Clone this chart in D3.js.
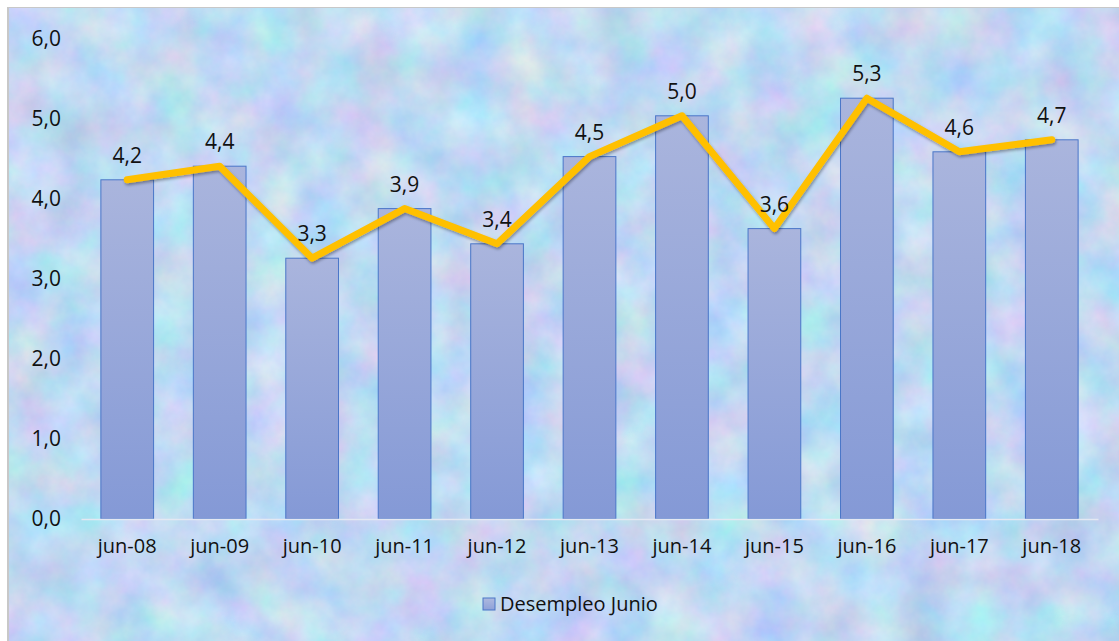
<!DOCTYPE html>
<html>
<head>
<meta charset="utf-8">
<style>
body { margin: 0; background: #fff; }
text { font-family: "Open Sans", "Noto Sans", sans-serif; fill: #111; }
.tick text { font-size: 20px; }
.yaxis .tick text { font-size: 21px; }
.lbl { font-size: 21px; text-anchor: middle; }
</style>
</head>
<body>
<svg width="1119" height="641"></svg>
<script src="https://cdn.jsdelivr.net/npm/d3@7"></script>
<script>
var categories = ["jun-08", "jun-09", "jun-10", "jun-11", "jun-12", "jun-13", "jun-14", "jun-15", "jun-16", "jun-17", "jun-18"];
var desempleo = [4.24, 4.41, 3.26, 3.88, 3.44, 4.53, 5.04, 3.63, 5.26, 4.59, 4.74];
var yTicks = [0, 1, 2, 3, 4, 5, 6];
var seriesName = "Desempleo Junio";

var svg = d3.select("svg"),
    width = 1119,
    height = 641;

var defs = svg.append("defs");

// textured background
var tex = defs.append("filter").attr("id", "tex")
    .attr("x", 0).attr("y", 0).attr("width", 1).attr("height", 1)
    .attr("color-interpolation-filters", "sRGB");
tex.append("feTurbulence")
    .attr("type", "fractalNoise")
    .attr("baseFrequency", "0.02")
    .attr("numOctaves", 5)
    .attr("seed", 7);
tex.append("feColorMatrix")
    .attr("type", "matrix")
    .attr("values", "0.34 0 0 0 0.58  0 0.22 0 0 0.74  0 0 0.12 0 0.89  0 0 0 0 1");

var grad = defs.append("linearGradient").attr("id", "barGrad")
    .attr("x1", 0).attr("y1", 0).attr("x2", 0).attr("y2", 1);
grad.append("stop").attr("offset", "0%").attr("stop-color", "#aab5dd");
grad.append("stop").attr("offset", "100%").attr("stop-color", "#8499d6");

var legGrad = defs.append("linearGradient").attr("id", "legGrad")
    .attr("x1", 0).attr("y1", 0).attr("x2", 0).attr("y2", 1);
legGrad.append("stop").attr("offset", "0%").attr("stop-color", "#aeb9df");
legGrad.append("stop").attr("offset", "100%").attr("stop-color", "#8ea1d8");

var shadow = defs.append("filter").attr("id", "shadow")
    .attr("x", "-5%").attr("y", "-5%").attr("width", "110%").attr("height", "120%");
shadow.append("feDropShadow")
    .attr("dx", 1).attr("dy", 2).attr("stdDeviation", 1.5)
    .attr("flood-color", "#000").attr("flood-opacity", 0.35);

// frame
svg.append("rect").attr("x", 7).attr("y", 7).attr("width", width).attr("height", height)
    .attr("fill", "#c8c8c8");
svg.append("rect").attr("x", 9).attr("y", 8).attr("width", width - 9).attr("height", height - 8)
    .attr("filter", "url(#tex)");

var x = d3.scaleBand()
    .domain(categories)
    .range([81, 1098])
    .paddingInner(0.43)
    .paddingOuter(0.215);

var y = d3.scaleLinear()
    .domain([0, 6])
    .range([519, 39]);

// y axis labels
var yAxis = svg.append("g")
    .attr("class", "yaxis")
    .attr("transform", "translate(61,0)")
    .call(d3.axisLeft(y).tickValues(yTicks).tickSize(0).tickPadding(0)
        .tickFormat(function(d) { return d3.format(".1f")(d).replace(".", ","); }));
yAxis.select(".domain").remove();

// bars
svg.append("g")
  .selectAll("rect")
  .data(desempleo)
  .enter().append("rect")
    .attr("x", function(d, i) { return x(categories[i]); })
    .attr("y", function(d) { return y(d); })
    .attr("width", x.bandwidth())
    .attr("height", function(d) { return y(0) - y(d); })
    .attr("fill", "url(#barGrad)")
    .attr("stroke", "#4a76c8")
    .attr("stroke-width", 1);

// baseline / x axis
var xAxis = svg.append("g")
    .attr("transform", "translate(0," + y(0) + ")")
    .call(d3.axisBottom(x).tickSize(0).tickPadding(20));
xAxis.select(".domain")
    .attr("stroke", "#e4e8f2")
    .attr("stroke-width", 1.5);

// line
var line = d3.line()
    .x(function(d, i) { return x(categories[i]) + x.bandwidth() / 2; })
    .y(function(d) { return y(d); });

svg.append("path")
    .datum(desempleo)
    .attr("d", line)
    .attr("fill", "none")
    .attr("stroke", "#ffc000")
    .attr("stroke-width", 7)
    .attr("stroke-linejoin", "round")
    .attr("stroke-linecap", "round")
    .attr("filter", "url(#shadow)");

// data labels
svg.append("g")
  .selectAll("text")
  .data(desempleo)
  .enter().append("text")
    .attr("class", "lbl")
    .attr("x", function(d, i) { return x(categories[i]) + x.bandwidth() / 2; })
    .attr("y", function(d) { return y(d) - 17; })
    .text(function(d) { return d3.format(".1f")(d).replace(".", ","); });

// legend
var legend = svg.append("g").attr("transform", "translate(483,598)");
legend.append("rect")
    .attr("width", 12).attr("height", 12)
    .attr("fill", "url(#legGrad)")
    .attr("stroke", "#4a76c8");
legend.append("text")
    .attr("x", 17).attr("y", 6).attr("dy", "0.35em")
    .style("font-size", "20px")
    .text(seriesName);
</script>
</body>
</html>
